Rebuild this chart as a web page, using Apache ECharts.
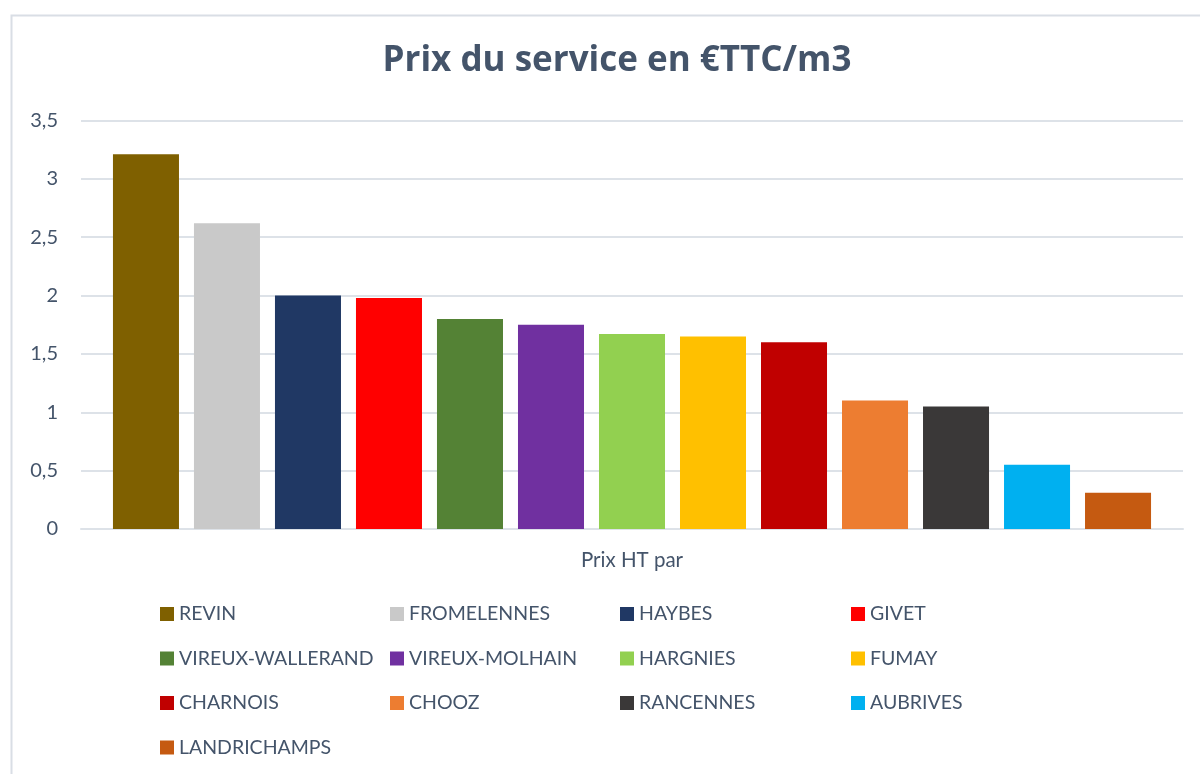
<!DOCTYPE html>
<html>
<head>
<meta charset="utf-8">
<script src="https://cdn.jsdelivr.net/npm/echarts@6/dist/echarts.min.js"></script>
<style>
html,body{margin:0;padding:0;background:#fff;}
#chart{width:1200px;height:774px;}
</style>
</head>
<body>
<div id="chart"></div>
<script>
const categories = ['Prix HT par'];
const seriesNames = ['REVIN','FROMELENNES','HAYBES','GIVET','VIREUX-WALLERAND','VIREUX-MOLHAIN','HARGNIES','FUMAY','CHARNOIS','CHOOZ','RANCENNES','AUBRIVES','LANDRICHAMPS'];
const seriesValues = [3.21, 2.62, 2.00, 1.98, 1.80, 1.75, 1.67, 1.65, 1.60, 1.10, 1.05, 0.55, 0.31];
const seriesColors = ['#7F6000','#C9C9C9','#203864','#FF0000','#548235','#7030A0','#92D050','#FFC000','#C00000','#ED7D31','#3A3838','#00B0F0','#C55A11'];
const yTicks = [0, 0.5, 1, 1.5, 2, 2.5, 3, 3.5];

const FONT = 'Lato';
const TXT = '#44546A';

const legendColumns = [
  [0, 4, 8, 12],
  [1, 5, 9],
  [2, 6, 10],
  [3, 7, 11]
];
const legendLefts = [160, 390, 620, 851];

const chart = echarts.init(document.getElementById('chart'), null, {renderer: 'canvas'});
chart.setOption({
  backgroundColor: '#fff',
  animation: false,
  textStyle: {fontFamily: FONT},
  title: {
    text: 'Prix du service en €TTC/m3',
    left: 612,
    textAlign: 'center',
    top: 39,
    textStyle: {fontFamily: 'Open Sans', fontWeight: 'bold', fontSize: 35, color: TXT}
  },
  graphic: [{
    type: 'rect',
    shape: {x: 11.5, y: 15.5, width: 1200, height: 800},
    style: {fill: 'none', stroke: '#D9DEE5', lineWidth: 2},
    silent: true
  }],
  grid: {left: 81, right: 17, top: 120.5, bottom: 245, containLabel: false},
  xAxis: {
    type: 'category',
    data: categories,
    axisLine: {show: true, lineStyle: {color: '#DDE2E8', width: 2}},
    axisTick: {show: false},
    axisLabel: {color: TXT, fontSize: 20.5, fontFamily: FONT, margin: 21}
  },
  yAxis: {
    type: 'value',
    min: yTicks[0],
    max: yTicks[yTicks.length - 1],
    interval: 0.5,
    axisLine: {show: false},
    axisTick: {show: false},
    splitLine: {lineStyle: {color: '#DDE2E8', width: 2}},
    axisLabel: {
      color: TXT, fontSize: 20, fontFamily: FONT, margin: 23,
      formatter: v => String(v).replace('.', ',')
    }
  },
  legend: legendColumns.map((col, i) => ({
    orient: 'vertical',
    left: legendLefts[i],
    top: 604,
    padding: 0,
    itemWidth: 14,
    itemHeight: 14,
    itemGap: 24.5,
    icon: 'rect',
    selectedMode: false,
    data: col.map(k => seriesNames[k]),
    textStyle: {color: TXT, fontSize: 19.5, fontFamily: FONT}
  })),
  series: seriesNames.map((name, i) => ({
    name: name,
    type: 'bar',
    data: [seriesValues[i]],
    itemStyle: {color: seriesColors[i]},
    barGap: '22.7%',
    barCategoryGap: '5.8%'
  }))
});
</script>
</body>
</html>
